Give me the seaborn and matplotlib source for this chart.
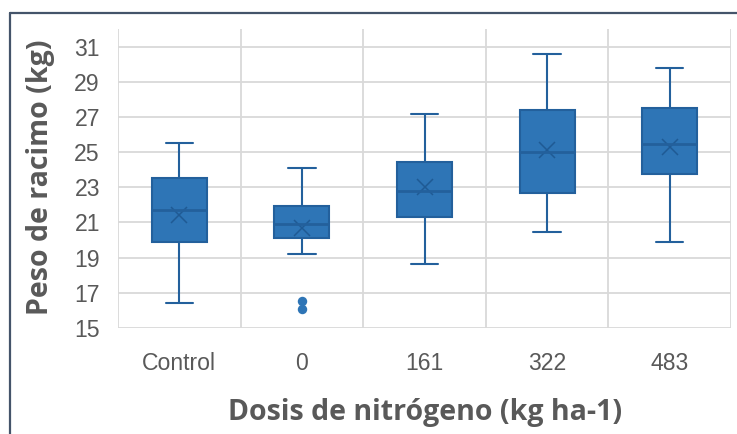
import matplotlib.pyplot as plt
import pandas as pd
import seaborn as sns
from matplotlib.lines import Line2D

# five-number summary, one value per dose
dosis = ["Control", "0", "161", "322", "483"]
bigote_inf = [16.4, 19.2, 18.65, 20.45, 19.9]
q1 = [19.9, 20.1, 21.3, 22.7, 23.75]
mediana = [21.7, 20.9, 22.8, 25.0, 25.45]
q3 = [23.55, 21.95, 24.45, 27.4, 27.5]
bigote_sup = [25.5, 24.1, 27.15, 30.6, 29.8]
media = [21.4, 20.7, 23.0, 25.1, 25.3]

# outliers
atipicos_dosis = ["0", "0"]
atipicos = [16.55, 16.1]

BLUE = "#2e75b6"
EDGE = "#23609c"
MEAN = "#1f5a94"
GRAY = "#595959"
GRID = "#d9d9d9"

# long table: whisker ends and quartiles, so the box stats come out exact
rows = []
for i, d in enumerate(dosis):
    for v in (bigote_inf[i], q1[i], mediana[i], q3[i], bigote_sup[i]):
        rows.append({"Dosis": d, "Peso": v})
df = pd.DataFrame(rows)

sns.set_theme(style="whitegrid")
plt.rcParams["font.family"] = ["Liberation Sans", "DejaVu Sans"]

fig, ax = plt.subplots(figsize=(7.37, 4.34), dpi=100)
fig.subplots_adjust(left=118 / 737, right=731 / 737, top=1 - 29 / 434, bottom=1 - 328 / 434)

sns.boxplot(data=df, x="Dosis", y="Peso", order=dosis, whis=(0, 100), width=0.45,
            color=BLUE, linecolor=EDGE, linewidth=1.5, saturation=1, ax=ax,
            medianprops={"color": EDGE, "linewidth": 2})
sns.stripplot(x=atipicos_dosis, y=atipicos, order=dosis, jitter=False, color=BLUE,
              size=6.8, linewidth=0, ax=ax)
sns.pointplot(x=dosis, y=media, order=dosis, linestyle="none", markers="x",
              color=MEAN, markersize=12, markeredgewidth=1.1, errorbar=None, ax=ax)

# axes and grid
ax.set_xlim(-0.5, 4.5)
ax.set_ylim(15, 32)
ax.set_yticks(range(15, 32, 2))
ax.set_xticks([i - 0.5 for i in range(6)], minor=True)
ax.grid(False)
ax.grid(True, axis="y", which="major", color=GRID, linewidth=1.3)
ax.grid(True, axis="x", which="minor", color=GRID, linewidth=1.3)
for s in ax.spines.values():
    s.set_visible(False)
ax.tick_params(axis="both", which="both", length=0, labelsize=16.6, colors=GRAY)
ax.tick_params(axis="x", pad=17)
ax.tick_params(axis="y", pad=13)
ax.set_xlabel("")
ax.set_ylabel("")

lab = dict(fontsize=20.5, fontweight="bold", color=GRAY, family=["Open Sans", "DejaVu Sans"])
fig.text(425 / 737, 1 - 420 / 434, "Dosis de nitrógeno (kg ha-1)", ha="center", va="baseline", **lab)
fig.text(41 / 737, 1 - 177 / 434, "Peso de racimo (kg)", ha="center", va="center", rotation=90, **lab)

# chart frame, top and left edges only
fig.add_artist(Line2D([10 / 737, 10 / 737], [0, 1 - 13 / 434], color="#44546a", lw=1.6,
                      transform=fig.transFigure))
fig.add_artist(Line2D([10 / 737, 1], [1 - 13 / 434, 1 - 13 / 434], color="#44546a", lw=1.6,
                      transform=fig.transFigure))

fig.savefig("out.png", dpi=100)
